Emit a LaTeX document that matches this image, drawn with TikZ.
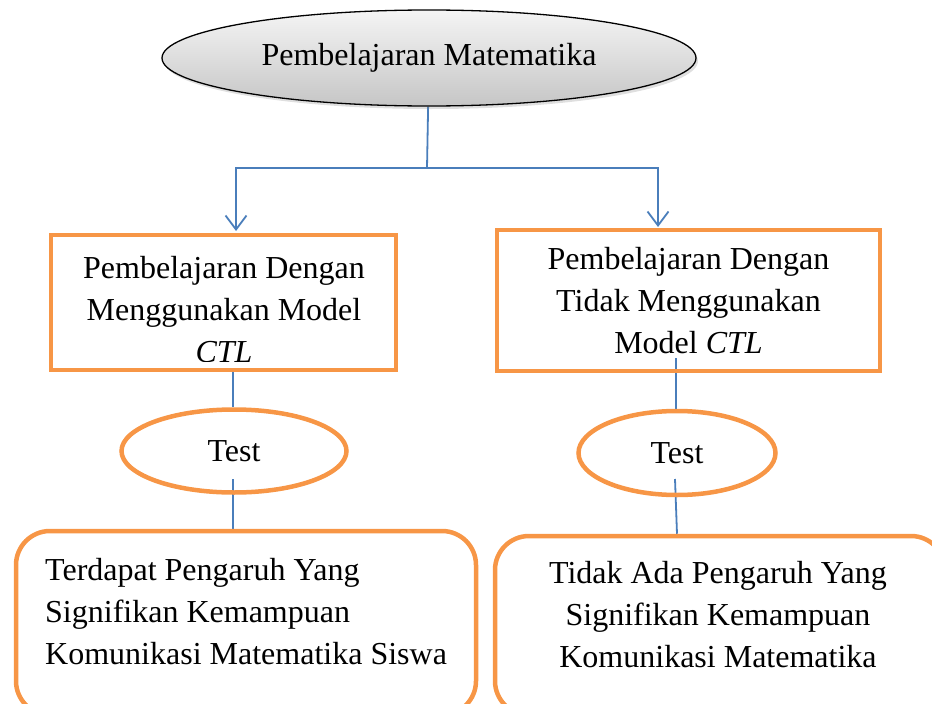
\documentclass[tikz,border=0pt]{standalone}
\usepackage{fontspec}
\setmainfont{Liberation Serif}
\usetikzlibrary{shapes.geometric,arrows.meta,shadows,backgrounds}
\definecolor{oranye}{HTML}{F79646}
\definecolor{biru}{HTML}{4A7EBB}
\begin{document}
\begin{tikzpicture}[x=1pt, y=-1pt,
  font=\fontsize{32}{42}\selectfont,
  garis/.style={draw=biru, line width=1.8pt},
  panah/.style={garis, -{Straight Barb[length=14pt, width=21pt]}},
  kotak/.style={draw=oranye, line width=4.5pt, rectangle, inner sep=0pt},
  uji/.style={draw=oranye, line width=4.5pt, ellipse, inner sep=0pt},
  hasil/.style={draw=oranye, line width=4.5pt, rectangle, rounded corners=34pt, inner sep=0pt},
  isi/.style={align=center, inner sep=0pt}]
\clip (0,0) rectangle (932,704);
\node[ellipse, draw=black, line width=1.3pt, top color=gray!8, bottom color=gray!45, minimum width=534pt, minimum height=96pt, drop shadow={opacity=0.25, shadow xshift=2pt, shadow yshift=-3pt}] (pm) at (429,58) {Pembelajaran Matematika};
\node[kotak, minimum width=345pt, minimum height=135pt] (kiri) at (223.5,302.5) {};
\begin{scope}
\clip (kiri.north west) rectangle ([yshift=11pt]kiri.south east);
\node[isi] (teksKiri) at (224,310) {Pembelajaran Dengan\\Menggunakan Model\\\textit{CTL}};
\end{scope}
\node[kotak, isi, minimum width=383pt, minimum height=141pt] (kanan) at (688.5,300.5) {Pembelajaran Dengan\\Tidak Menggunakan\\Model \textit{CTL}};
\node[uji, minimum width=225pt, minimum height=83pt] (ujiKiri) at (234,451) {Test};
\node[uji, minimum width=197pt, minimum height=84pt] (ujiKanan) at (677,453) {Test};
\node[hasil, minimum width=460pt, minimum height=184pt] (hasilKiri) at (246,623) {};
\node[hasil, minimum width=450pt, minimum height=179pt] (hasilKanan) at (720,625.5) {};
\node[isi, align=left, anchor=west] (teksHasilKiri) at (45,612) {Terdapat Pengaruh Yang\\Signifikan Kemampuan\\Komunikasi Matematika Siswa};
\node[isi] (teksHasilKanan) at (718,615) {Tidak Ada Pengaruh Yang\\Signifikan Kemampuan\\Komunikasi Matematika};
\coordinate (cabang) at (427,168);
\coordinate (masukKiri) at (236,231);
\coordinate (masukKanan) at (658,227);
\coordinate (awalKanan) at (676,358);
\coordinate (dalamKiri) at (233,479);
\coordinate (dalamKanan) at (675,479);
\begin{pgfonlayer}{background}
\draw[garis] (pm) to (cabang);
\draw[panah] (cabang) -| (masukKiri);
\draw[panah] (cabang) -| (masukKanan);
\draw[garis] (kiri.south -| dalamKiri) to (ujiKiri.north -| dalamKiri);
\draw[garis] (awalKanan) to (ujiKanan.north -| awalKanan);
\draw[garis] (dalamKiri) to (hasilKiri.north -| dalamKiri);
\draw[garis] (dalamKanan) to (hasilKanan.north -| ujiKanan.center);
\end{pgfonlayer}
\end{tikzpicture}
\end{document}
